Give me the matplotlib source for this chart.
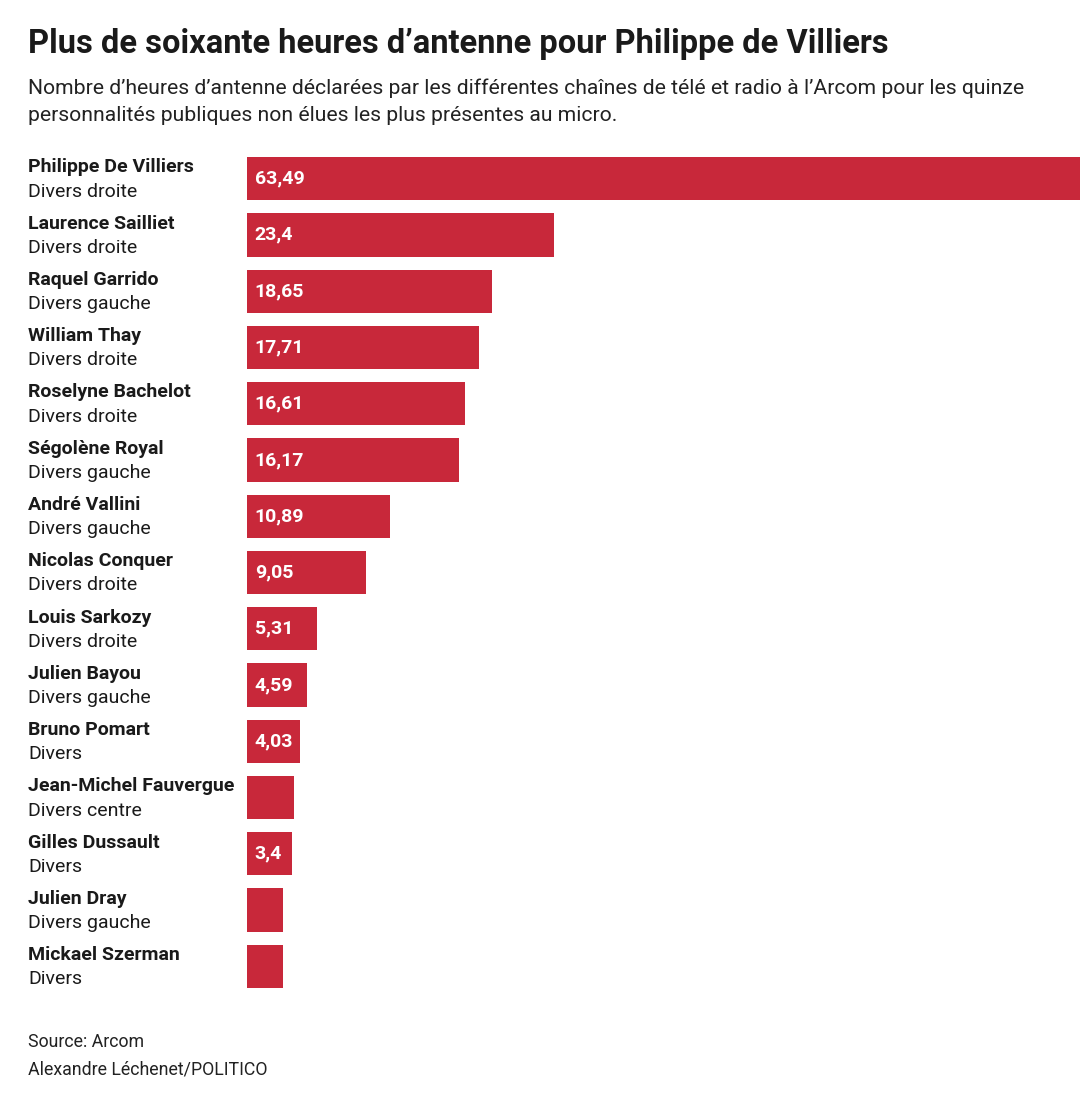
import matplotlib.pyplot as plt
from matplotlib import font_manager

names = ["Philippe De Villiers", "Laurence Sailliet", "Raquel Garrido", "William Thay",
         "Roselyne Bachelot", "Ségolène Royal", "André Vallini", "Nicolas Conquer",
         "Louis Sarkozy", "Julien Bayou", "Bruno Pomart", "Jean-Michel Fauvergue",
         "Gilles Dussault", "Julien Dray", "Mickael Szerman"]
groups = ["Divers droite", "Divers droite", "Divers gauche", "Divers droite",
          "Divers droite", "Divers gauche", "Divers gauche", "Divers droite",
          "Divers droite", "Divers gauche", "Divers", "Divers centre",
          "Divers", "Divers gauche", "Divers"]
hours = [63.49, 23.4, 18.65, 17.71, 16.61, 16.17, 10.89, 9.05,
         5.31, 4.59, 4.03, 3.58, 3.4, 2.74, 2.74]
labels = ["63,49", "23,4", "18,65", "17,71", "16,61", "16,17", "10,89", "9,05",
          "5,31", "4,59", "4,03", "", "3,4", "", ""]

installed = {f.name for f in font_manager.fontManager.ttflist}
narrow = "Liberation Sans Narrow" if "Liberation Sans Narrow" in installed else "Roboto"
plt.rcParams['font.family'] = [narrow, 'DejaVu Sans']

W, H = 1092, 1110
fig = plt.figure(figsize=(W / 100, H / 100), dpi=100)
ax = fig.add_axes([247 / W, 1 - 994.5 / H, (1080 - 247) / W, (994.5 - 150.5) / H])

red = "#c8283a"
y = list(range(len(names)))
ax.barh(y, hours, height=0.77, color=red)
ax.set_xlim(0, hours[0])
ax.set_ylim(len(names) - 0.5, -0.5)
ax.axis("off")

for i, (n, g, lab) in enumerate(zip(names, groups, labels)):
    ax.text(-219 / 833 * hours[0], i - 0.2, n, ha="left", va="center",
            fontsize=14, fontweight="bold", color="#1a1a1a")
    ax.text(-219 / 833 * hours[0], i + 0.23, g, ha="left", va="center",
            fontsize=14, color="#1a1a1a")
    if lab:
        ax.text(0.6, i, lab, ha="left", va="center", fontsize=14,
                fontweight="bold", color="white")

fig.text(28 / W, 1 - 44 / H, "Plus de soixante heures d\u2019antenne pour Philippe de Villiers",
         fontsize=23.5, fontweight="bold", color="#1a1a1a", va="center")
fig.text(28 / W, 1 - 88 / H,
         "Nombre d\u2019heures d\u2019antenne déclarées par les différentes chaînes de télé et radio à l\u2019Arcom pour les quinze",
         fontsize=15.2, color="#222222", va="center")
fig.text(28 / W, 1 - 115 / H, "personnalités publiques non élues les plus présentes au micro.",
         fontsize=15.2, color="#222222", va="center")
fig.text(28 / W, 1 - 1042 / H, "Source: Arcom", fontsize=12.8, color="#222222", va="center")
fig.text(28 / W, 1 - 1070 / H, "Alexandre Léchenet/POLITICO", fontsize=12.8, color="#222222", va="center")

fig.savefig("out.png", dpi=100, facecolor="white")
